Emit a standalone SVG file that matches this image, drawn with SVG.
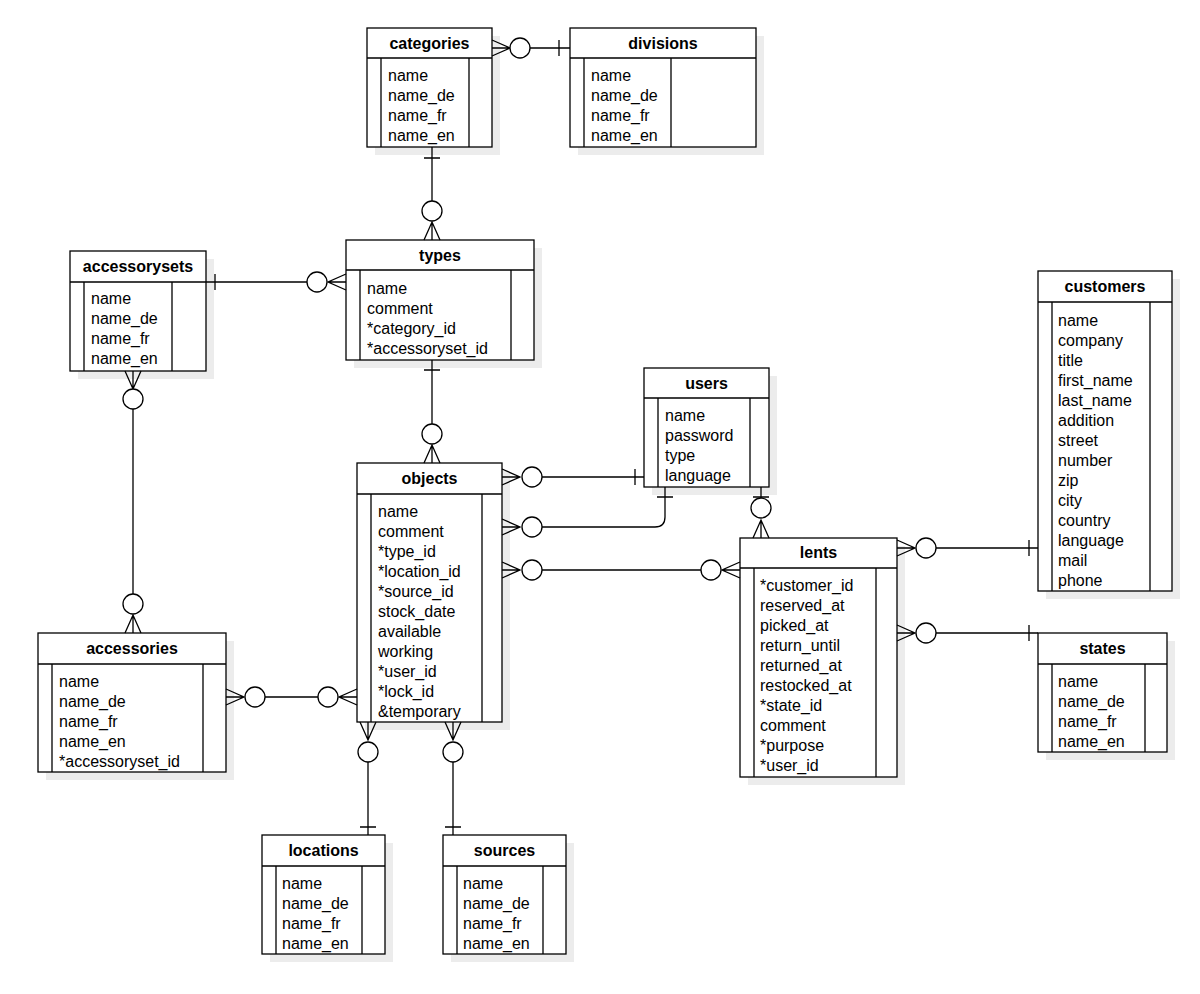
<svg xmlns="http://www.w3.org/2000/svg" width="1200" height="994" viewBox="0 0 1200 994">
<style>
.sh{fill:#ececec}
.bx{fill:#fff;stroke:#000;stroke-width:1.3}
.ln{fill:none;stroke:#000;stroke-width:1.3}
.ci{fill:#fff;stroke:#000;stroke-width:1.3}
.t{font-family:"Liberation Sans",Arial,sans-serif;font-size:16px;fill:#000}
.h{font-family:"Liberation Sans",Arial,sans-serif;font-size:16px;font-weight:bold;fill:#000;text-anchor:middle}
</style>
<rect width="1200" height="994" fill="#fff"/>
<g id="categories">
<rect class="sh" x="375" y="36" width="125" height="119"/>
<rect class="bx" x="367" y="28" width="125" height="119"/>
<path class="ln" d="M367,58H492M381,58V147M469,58V147"/>
<text class="h" x="429.5" y="49">categories</text>
<text class="t" x="388" y="81">name</text><text class="t" x="388" y="101">name_de</text><text class="t" x="388" y="121">name_fr</text><text class="t" x="388" y="141">name_en</text>
</g>
<g id="divisions">
<rect class="sh" x="578" y="36" width="186" height="119"/>
<rect class="bx" x="570" y="28" width="186" height="119"/>
<path class="ln" d="M570,58H756M584,58V147M671,58V147"/>
<text class="h" x="663" y="49">divisions</text>
<text class="t" x="591" y="81">name</text><text class="t" x="591" y="101">name_de</text><text class="t" x="591" y="121">name_fr</text><text class="t" x="591" y="141">name_en</text>
</g>
<g id="types">
<rect class="sh" x="354" y="248" width="188" height="120"/>
<rect class="bx" x="346" y="240" width="188" height="120"/>
<path class="ln" d="M346,270H534M360,270V360M511,270V360"/>
<text class="h" x="440" y="261">types</text>
<text class="t" x="367" y="294">name</text><text class="t" x="367" y="314">comment</text><text class="t" x="367" y="334">*category_id</text><text class="t" x="367" y="354">*accessoryset_id</text>
</g>
<g id="accessorysets">
<rect class="sh" x="78" y="259" width="136" height="120"/>
<rect class="bx" x="70" y="251" width="136" height="120"/>
<path class="ln" d="M70,282H206M84,282V371M172,282V371"/>
<text class="h" x="138" y="272">accessorysets</text>
<text class="t" x="91" y="304">name</text><text class="t" x="91" y="324">name_de</text><text class="t" x="91" y="344">name_fr</text><text class="t" x="91" y="364">name_en</text>
</g>
<g id="customers">
<rect class="sh" x="1046" y="279" width="134" height="320"/>
<rect class="bx" x="1038" y="271" width="134" height="320"/>
<path class="ln" d="M1038,302H1172M1052,302V591M1150,302V591"/>
<text class="h" x="1105" y="292">customers</text>
<text class="t" x="1058" y="326">name</text><text class="t" x="1058" y="346">company</text><text class="t" x="1058" y="366">title</text><text class="t" x="1058" y="386">first_name</text><text class="t" x="1058" y="406">last_name</text><text class="t" x="1058" y="426">addition</text><text class="t" x="1058" y="446">street</text><text class="t" x="1058" y="466">number</text><text class="t" x="1058" y="486">zip</text><text class="t" x="1058" y="506">city</text><text class="t" x="1058" y="526">country</text><text class="t" x="1058" y="546">language</text><text class="t" x="1058" y="566">mail</text><text class="t" x="1058" y="586">phone</text>
</g>
<g id="users">
<rect class="sh" x="652" y="376" width="125" height="119"/>
<rect class="bx" x="644" y="368" width="125" height="119"/>
<path class="ln" d="M644,398H769M658,398V487M750,398V487"/>
<text class="h" x="706.5" y="389">users</text>
<text class="t" x="665" y="421">name</text><text class="t" x="665" y="441">password</text><text class="t" x="665" y="461">type</text><text class="t" x="665" y="481">language</text>
</g>
<g id="objects">
<rect class="sh" x="365" y="471" width="145" height="259"/>
<rect class="bx" x="357" y="463" width="145" height="259"/>
<path class="ln" d="M357,494H502M371,494V722M482,494V722"/>
<text class="h" x="429.5" y="484">objects</text>
<text class="t" x="378" y="517">name</text><text class="t" x="378" y="537">comment</text><text class="t" x="378" y="557">*type_id</text><text class="t" x="378" y="577">*location_id</text><text class="t" x="378" y="597">*source_id</text><text class="t" x="378" y="617">stock_date</text><text class="t" x="378" y="637">available</text><text class="t" x="378" y="657">working</text><text class="t" x="378" y="677">*user_id</text><text class="t" x="378" y="697">*lock_id</text><text class="t" x="378" y="717">&amp;temporary</text>
</g>
<g id="lents">
<rect class="sh" x="748" y="546" width="157" height="239"/>
<rect class="bx" x="740" y="538" width="157" height="239"/>
<path class="ln" d="M740,568H897M754,568V777M876,568V777"/>
<text class="h" x="818.5" y="558">lents</text>
<text class="t" x="760" y="591">*customer_id</text><text class="t" x="760" y="611">reserved_at</text><text class="t" x="760" y="631">picked_at</text><text class="t" x="760" y="651">return_until</text><text class="t" x="760" y="671">returned_at</text><text class="t" x="760" y="691">restocked_at</text><text class="t" x="760" y="711">*state_id</text><text class="t" x="760" y="731">comment</text><text class="t" x="760" y="751">*purpose</text><text class="t" x="760" y="771">*user_id</text>
</g>
<g id="states">
<rect class="sh" x="1046" y="641" width="129" height="119"/>
<rect class="bx" x="1038" y="633" width="129" height="119"/>
<path class="ln" d="M1038,664H1167M1052,664V752M1145,664V752"/>
<text class="h" x="1102.5" y="654">states</text>
<text class="t" x="1058" y="687">name</text><text class="t" x="1058" y="707">name_de</text><text class="t" x="1058" y="727">name_fr</text><text class="t" x="1058" y="747">name_en</text>
</g>
<g id="accessories">
<rect class="sh" x="46" y="641" width="188" height="139"/>
<rect class="bx" x="38" y="633" width="188" height="139"/>
<path class="ln" d="M38,664H226M52,664V772M203,664V772"/>
<text class="h" x="132" y="654">accessories</text>
<text class="t" x="59" y="687">name</text><text class="t" x="59" y="707">name_de</text><text class="t" x="59" y="727">name_fr</text><text class="t" x="59" y="747">name_en</text><text class="t" x="59" y="767">*accessoryset_id</text>
</g>
<g id="locations">
<rect class="sh" x="270" y="843" width="123" height="119"/>
<rect class="bx" x="262" y="835" width="123" height="119"/>
<path class="ln" d="M262,866H385M276,866V954M362,866V954"/>
<text class="h" x="323.5" y="856">locations</text>
<text class="t" x="282" y="889">name</text><text class="t" x="282" y="909">name_de</text><text class="t" x="282" y="929">name_fr</text><text class="t" x="282" y="949">name_en</text>
</g>
<g id="sources">
<rect class="sh" x="451" y="843" width="123" height="119"/>
<rect class="bx" x="443" y="835" width="123" height="119"/>
<path class="ln" d="M443,866H566M457,866V954M543,866V954"/>
<text class="h" x="504.5" y="856">sources</text>
<text class="t" x="463" y="889">name</text><text class="t" x="463" y="909">name_de</text><text class="t" x="463" y="929">name_fr</text><text class="t" x="463" y="949">name_en</text>
</g>
<g id="connectors">
<path class="ln" d="M492,40L510,48L492,56M492,48H510M530,48H570M559,40V56"/><circle class="ci" cx="520" cy="48" r="10"/>
<path class="ln" d="M432,147V201M424,158H440M424,240L432,222L440,240M432,222V240"/><circle class="ci" cx="432" cy="211" r="10"/>
<path class="ln" d="M206,282H307M215,274V290M346,274L328,282L346,290M328,282H346"/><circle class="ci" cx="317" cy="282" r="10"/>
<path class="ln" d="M125,371L133,389L141,371M133,371V389M133,409V594M125,633L133,615L141,633M133,615V633"/><circle class="ci" cx="133" cy="399" r="10"/><circle class="ci" cx="133" cy="604" r="10"/>
<path class="ln" d="M432,360V424M424,370H440M424,463L432,445L440,463M432,445V463"/><circle class="ci" cx="432" cy="434" r="10"/>
<path class="ln" d="M502,469L520,477L502,485M502,477H520M542,477H644M635,469V485"/><circle class="ci" cx="532" cy="477" r="10"/>
<path class="ln" d="M502,519L520,527L502,535M502,527H520M542,527H655Q665,527 665,517V487M657,497H673"/><circle class="ci" cx="532" cy="527" r="10"/>
<path class="ln" d="M502,562L520,570L502,578M502,570H520M542,570H701M740,562L722,570L740,578M722,570H740"/><circle class="ci" cx="532" cy="570" r="10"/><circle class="ci" cx="711" cy="570" r="10"/>
<path class="ln" d="M761,487V498M753,497H769M753,538L761,520L769,538M761,520V538"/><circle class="ci" cx="761" cy="508" r="10"/>
<path class="ln" d="M897,540L915,548L897,556M897,548H915M936,548H1038M1029,540V556"/><circle class="ci" cx="926" cy="548" r="10"/>
<path class="ln" d="M897,625L915,633L897,641M897,633H915M936,633H1038M1029,625V641"/><circle class="ci" cx="926" cy="633" r="10"/>
<path class="ln" d="M226,689L244,697L226,705M226,697H244M265,697H318M357,689L339,697L357,705M339,697H357"/><circle class="ci" cx="255" cy="697" r="10"/><circle class="ci" cx="328" cy="697" r="10"/>
<path class="ln" d="M360,722L368,740L376,722M368,722V740M368,762V835M360,827H376"/><circle class="ci" cx="368" cy="752" r="10"/>
<path class="ln" d="M445,722L453,740L461,722M453,722V740M453,762V835M445,827H461"/><circle class="ci" cx="453" cy="752" r="10"/>
</g>
</svg>
